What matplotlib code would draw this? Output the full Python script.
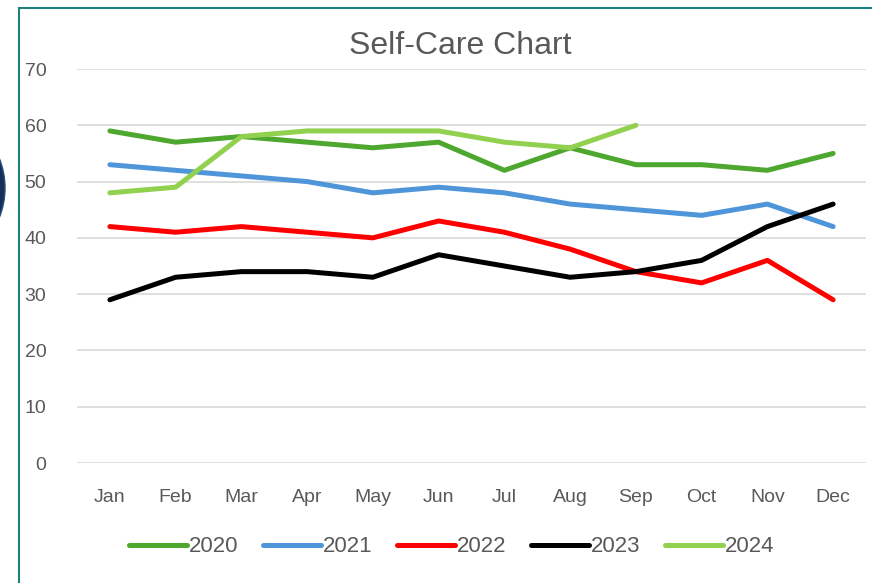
import matplotlib.pyplot as plt
from matplotlib.patches import Rectangle, Ellipse

# Data
months = ['Jan', 'Feb', 'Mar', 'Apr', 'May', 'Jun', 'Jul', 'Aug', 'Sep', 'Oct', 'Nov', 'Dec']
y2020 = [59, 57, 58, 57, 56, 57, 52, 56, 53, 53, 52, 55]
y2021 = [53, 52, 51, 50, 48, 49, 48, 46, 45, 44, 46, 42]
y2022 = [42, 41, 42, 41, 40, 43, 41, 38, 34, 32, 36, 29]
y2023 = [29, 33, 34, 34, 33, 37, 35, 33, 34, 36, 42, 46]
y2024 = [48, 49, 58, 59, 59, 59, 57, 56, 60]

series = [
    ('2020', y2020, '#4EA72E'),
    ('2021', y2021, '#4E95D9'),
    ('2022', y2022, '#FF0000'),
    ('2023', y2023, '#000000'),
    ('2024', y2024, '#92D050'),
]

plt.rcParams['font.family'] = ['Liberation Sans', 'DejaVu Sans']
grey = '#595959'

fig = plt.figure(figsize=(8.72, 5.83), dpi=100)

# chart frame and the bit of shape peeking in at the left edge
fig.patches.append(Rectangle((19 / 872, -0.1), 1.2, 1 - 8 / 583 + 0.1, transform=fig.transFigure,
                             facecolor='white', edgecolor='#1F7F7F', linewidth=1.5, zorder=-2))
fig.patches.append(Ellipse((-75 / 872, 1 - 188 / 583), 160 / 872, 160 / 583, transform=fig.transFigure,
                           facecolor='#14305A', edgecolor='#2A4F7A', linewidth=1, zorder=-2))

ax = fig.add_axes([77 / 872, 1 - 463 / 583, 789 / 872, 394 / 583])
ax.set_facecolor('none')
ax.set_zorder(1)

for name, vals, col in series:
    ax.plot(range(len(vals)), vals, color=col, linewidth=3.6, label=name,
            solid_capstyle='round', solid_joinstyle='round', zorder=3)

ax.set_xlim(-0.5, 11.5)
ax.set_ylim(0, 70)
ax.set_yticks(range(0, 71, 10))
ax.set_xticks(range(12))
ax.set_xticklabels(months)
ax.grid(axis='y', color='#D9D9D9', linewidth=1.2, zorder=0)
ax.set_axisbelow(True)
for s in ax.spines.values():
    s.set_visible(False)
ax.tick_params(axis='both', length=0, colors=grey, labelsize=14)
ax.tick_params(axis='x', pad=19)
ax.tick_params(axis='y', pad=22)

fig.text(460 / 872, 1 - 46 / 583, 'Self-Care Chart', ha='center', va='center',
         fontsize=23, color=grey)

leg = ax.legend(loc='center', bbox_to_anchor=(452 / 872, 1 - 547 / 583), bbox_transform=fig.transFigure,
                ncol=5, frameon=False, fontsize=16, handlelength=2.6, handletextpad=0.1,
                columnspacing=1.1)
for t in leg.get_texts():
    t.set_color(grey)

fig.savefig('out.png', dpi=100)
